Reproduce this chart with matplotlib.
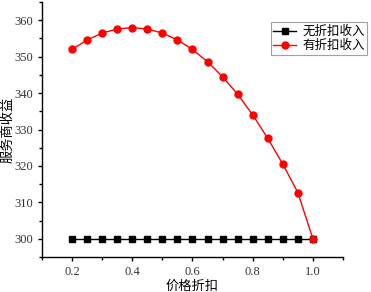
import matplotlib
matplotlib.use("Agg")
import matplotlib.pyplot as plt
from matplotlib.ticker import MultipleLocator

# price discount levels
discount = [0.2, 0.25, 0.3, 0.35, 0.4, 0.45, 0.5, 0.55, 0.6, 0.65,
            0.7, 0.75, 0.8, 0.85, 0.9, 0.95, 1.0]
# provider revenue without discount
no_disc = [300] * 17
# provider revenue with discount
with_disc = [352.0, 354.6, 356.5, 357.6, 358.0, 357.6, 356.5, 354.6, 352.0,
             348.6, 344.5, 339.7, 334.0, 327.6, 320.5, 312.7, 300.0]

cjk = ['Noto Sans CJK SC', 'DejaVu Sans']
num_font = 'Liberation Serif'

fig = plt.figure(figsize=(3.71, 2.92), dpi=100)
ax = fig.add_axes([0.1132, 0.1199, 0.8113, 0.873])

ax.plot(discount, no_disc, color='black', marker='s', markersize=4,
        linewidth=1, label='无折扣收入')
ax.plot(discount, with_disc, color='red', marker='o', markersize=5,
        linewidth=1, label='有折扣收入')

ax.set_xlim(0.1, 1.1)
ax.set_ylim(295, 365)
ax.xaxis.set_major_locator(MultipleLocator(0.2))
ax.xaxis.set_minor_locator(MultipleLocator(0.1))
ax.yaxis.set_major_locator(MultipleLocator(10))
ax.yaxis.set_minor_locator(MultipleLocator(5))
ax.tick_params(which='major', direction='out', length=3, width=1, labelsize=9)
ax.tick_params(which='minor', direction='out', length=2, width=1)
ax.set_xticks([0.2, 0.4, 0.6, 0.8, 1.0])
ax.set_xticklabels(['0.2', '0.4', '0.6', '0.8', '1.0'])
for lab in ax.get_xticklabels() + ax.get_yticklabels():
    lab.set_family(num_font)
    lab.set_color('#333333')

for side in ['top', 'right']:
    ax.spines[side].set_visible(False)
for side in ['left', 'bottom']:
    ax.spines[side].set_linewidth(1)

ax.set_xlabel('价格折扣', family=cjk, fontsize=9.5, labelpad=1)
ax.set_ylabel('服务商收益', family=cjk, fontsize=9.5)
ax.yaxis.set_label_coords(-0.093, 0.5)

leg = ax.legend(loc='upper right', bbox_to_anchor=(1.08, 0.92),
                prop={'family': cjk, 'size': 9}, frameon=True, fancybox=False,
                borderpad=0.2, handlelength=1.8, handletextpad=0.5,
                labelspacing=0.1, borderaxespad=0)
leg.get_frame().set_edgecolor('#888888')
leg.get_frame().set_linewidth(0.8)

fig.savefig('out.png', dpi=100)
